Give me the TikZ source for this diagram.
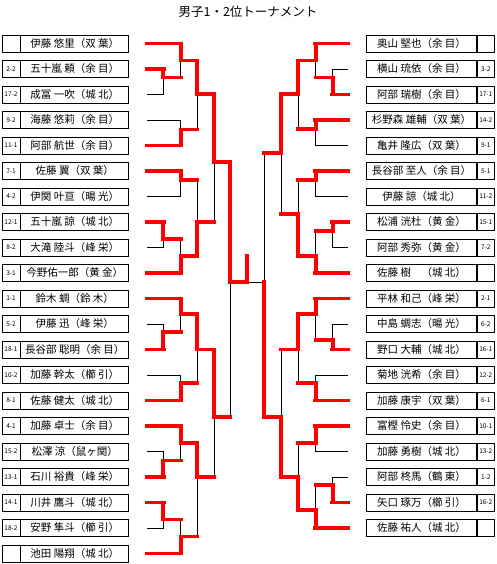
\documentclass[tikz,border=0pt]{standalone}
\usepackage{fontspec}
\newfontfamily\jp{Noto Sans CJK JP}
\usetikzlibrary{positioning}

\begin{document}
\begin{tikzpicture}[
    x=1pt, y=-1pt,
    namebox/.style={rectangle, draw, line width=0.8pt, minimum height=17pt, inner sep=0pt, font=\jp\fontsize{10.5}{10.5}\selectfont},
    seedbox/.style={rectangle, draw, line width=0.8pt, minimum width=17pt, minimum height=17pt, inner sep=0pt, font=\jp\fontsize{6.5}{6.5}\selectfont},
    win/.style={draw=red, line width=3.8pt, line cap=rect},
    lose/.style={draw=black, line width=0.9pt}
]
\useasboundingbox (0,0) rectangle (496,564);

% Title
\node[font=\jp\fontsize{12.5}{12.5}\selectfont] (title) at (248,12) {男子1・2位トーナメント};

% Left entries
\foreach \i/\s/\n in {1//{伊藤 悠里（双 葉）}, 2/2-2/{五十嵐 頼（余 目）}, 3/17-2/{成冨 一吹（城 北）},
    4/9-2/{海藤 悠莉（余 目）}, 5/11-1/{阿部 航世（余 目）}, 6/7-1/{佐藤 翼（双 葉）},
    7/4-2/{伊関 叶亘（暘 光）}, 8/12-1/{五十嵐 諒（城 北）}, 9/8-2/{大滝 陸斗（峰 栄）},
    10/3-1/{今野佑一郎（黄 金）}, 11/1-1/{鈴木 蜩（鈴 木）}, 12/5-2/{伊藤 迅（峰 栄）},
    13/18-1/{長谷部 聡明（余 目）}, 14/10-2/{加藤 幹太（櫛 引）}, 15/8-1/{佐藤 健太（城 北）},
    16/4-1/{加藤 卓士（余 目）}, 17/15-2/{松澤 涼（鼠ヶ関）}, 18/13-1/{石川 裕貴（峰 栄）},
    19/14-1/{川井 鷹斗（城 北）}, 20/18-2/{安野 隼斗（櫛 引）}, 21//{池田 陽翔（城 北）}}{
  \node[namebox, minimum width=108pt] (L\i) at (74.8, {43.5+(\i-1)*25.5}) {\n};
  \node[seedbox, minimum width=18pt, left=0pt of L\i] (LS\i) {\s};
  \coordinate (la\i) at ([xshift=18pt]L\i.east);
}

% Right entries
\foreach \i/\s/\n in {1//{奥山 堅也（余 目）}, 2/3-2/{横山 琉依（余 目）}, 3/17-1/{阿部 瑞樹（余 目）},
    4/14-2/{杉野森 雄輔（双 葉）}, 5/9-1/{亀井 隆広（双 葉）}, 6/5-1/{長谷部 至人（余 目）},
    7/11-2/{伊藤 諒（城 北）}, 8/15-1/{松浦 洸杜（黄 金）}, 9/7-2/{阿部 秀弥（黄 金）},
    10//{佐藤 樹　（城 北）}, 11/2-1/{平林 和己（峰 栄）}, 12/6-2/{中島 蜩志（暘 光）},
    13/16-1/{野口 大輔（城 北）}, 14/12-2/{菊地 洸希（余 目）}, 15/6-1/{加藤 康宇（双 葉）},
    16/10-1/{富樫 怜史（余 目）}, 17/13-2/{加藤 勇樹（城 北）}, 18/1-2/{阿部 柊馬（鶴 東）},
    19/16-2/{矢口 琢万（櫛 引）}, 20//{佐藤 祐人（城 北）}}{
  \node[namebox, minimum width=110pt] (R\i) at (421.5, {43.5+(\i-1)*25.5}) {\n};
  \node[seedbox, right=0pt of R\i] (RS\i) {\s};
  \coordinate (ra\i) at ([xshift=-18pt]R\i.west);
}

% Matches: x / next x / winner y / meeting y / loser y
\def\leftmatches{163.3/180.7/69/77.6/94.5, 163.3/180.7/222/238.6/247.5, 163.3/180.7/349.5/331.8/324,
  163.3/180.7/477/460.4/451.5, 163.3/180.7/502.5/519.4/528,
  180.7/197.3/43.5/60.55/77.6, 180.7/197.3/145.5/129.5/120, 180.7/197.3/171/180/196.5,
  180.7/197.3/273/255.7/238.6, 180.7/197.3/298.5/314/331.8, 180.7/197.3/400.5/382.9/375,
  180.7/197.3/426/442.6/460.4, 180.7/197.3/553.5/536.4/519.4,
  197.3/214/60.55/94/129.5, 197.3/214/255.7/222/180, 197.3/214/314/349.5/382.9, 197.3/214/442.6/477/536.4,
  214/230/94/162.2/222, 214/230/349.5/417/477,
  230/247.3/162.2/282.3/417}
\def\rightmatches{332.7/315.7/94.5/77.6/69, 332.7/315.7/222/231.1/247.5, 332.7/315.7/349.5/340.3/324,
  332.7/315.7/502.5/485.3/477,
  315.7/298.3/43.5/60.55/77.6, 315.7/298.3/120/128.8/145.5, 315.7/298.3/171/180/196.5,
  315.7/298.3/273/255.7/231.1, 315.7/298.3/298.5/314/340.3, 315.7/298.3/400.5/382.9/375,
  315.7/298.3/426/442.6/451.5, 315.7/298.3/528/509.8/485.3,
  298.3/281.3/60.55/94/128.8, 298.3/281.3/255.7/214.1/180, 298.3/281.3/314/349.5/382.9, 298.3/281.3/509.8/477/442.6,
  281.3/264/94/153.3/214.1, 281.3/264/477/417/349.5}

% Losers
\foreach \x/\xn/\yw/\ym/\yl in \leftmatches { \draw[lose] (\x,\yl) -- (\x,\ym); }
\foreach \x/\xn/\yw/\ym/\yl in \rightmatches { \draw[lose] (\x,\yl) -- (\x,\ym); }
\draw[lose] (264,153.3) -- (264,282.3) -- (247.3,282.3);

% First-round lines
\foreach \i/\xf/\c in {1/180.7/win, 2/163.3/win, 3/163.3/lose, 4/180.7/lose, 5/180.7/win, 6/180.7/win,
    7/180.7/lose, 8/163.3/win, 9/163.3/lose, 10/180.7/win, 11/180.7/win, 12/163.3/lose, 13/163.3/win,
    14/180.7/lose, 15/180.7/win, 16/180.7/win, 17/163.3/lose, 18/163.3/win, 19/163.3/win,
    20/163.3/lose, 21/180.7/win}{
  \draw[style=\c] (la\i) -- ++({\xf-146.5},0);
}
\foreach \i/\xf/\c in {1/315.7/win, 2/332.7/lose, 3/332.7/win, 4/315.7/win, 5/315.7/lose, 6/315.7/win,
    7/315.7/lose, 8/332.7/win, 9/332.7/lose, 10/315.7/win, 11/315.7/win, 12/332.7/lose, 13/332.7/win,
    14/315.7/lose, 15/315.7/win, 16/315.7/win, 17/315.7/lose, 18/332.7/lose, 19/332.7/win,
    20/315.7/win}{
  \draw[style=\c] (ra\i) -- ++({\xf-348.5},0);
}

% Winners
\foreach \x/\xn/\yw/\ym/\yl in \leftmatches { \draw[win] (\x,\yw) -- (\x,\ym) -- (\xn,\ym); }
\foreach \x/\xn/\yw/\ym/\yl in \rightmatches { \draw[win] (\x,\yw) -- (\x,\ym) -- (\xn,\ym); }

% Final
\draw[win] (264,417) -- (264,282.3);
\draw[win] (247.3,282.3) -- (247.3,255.7);

\end{tikzpicture}
\end{document}
